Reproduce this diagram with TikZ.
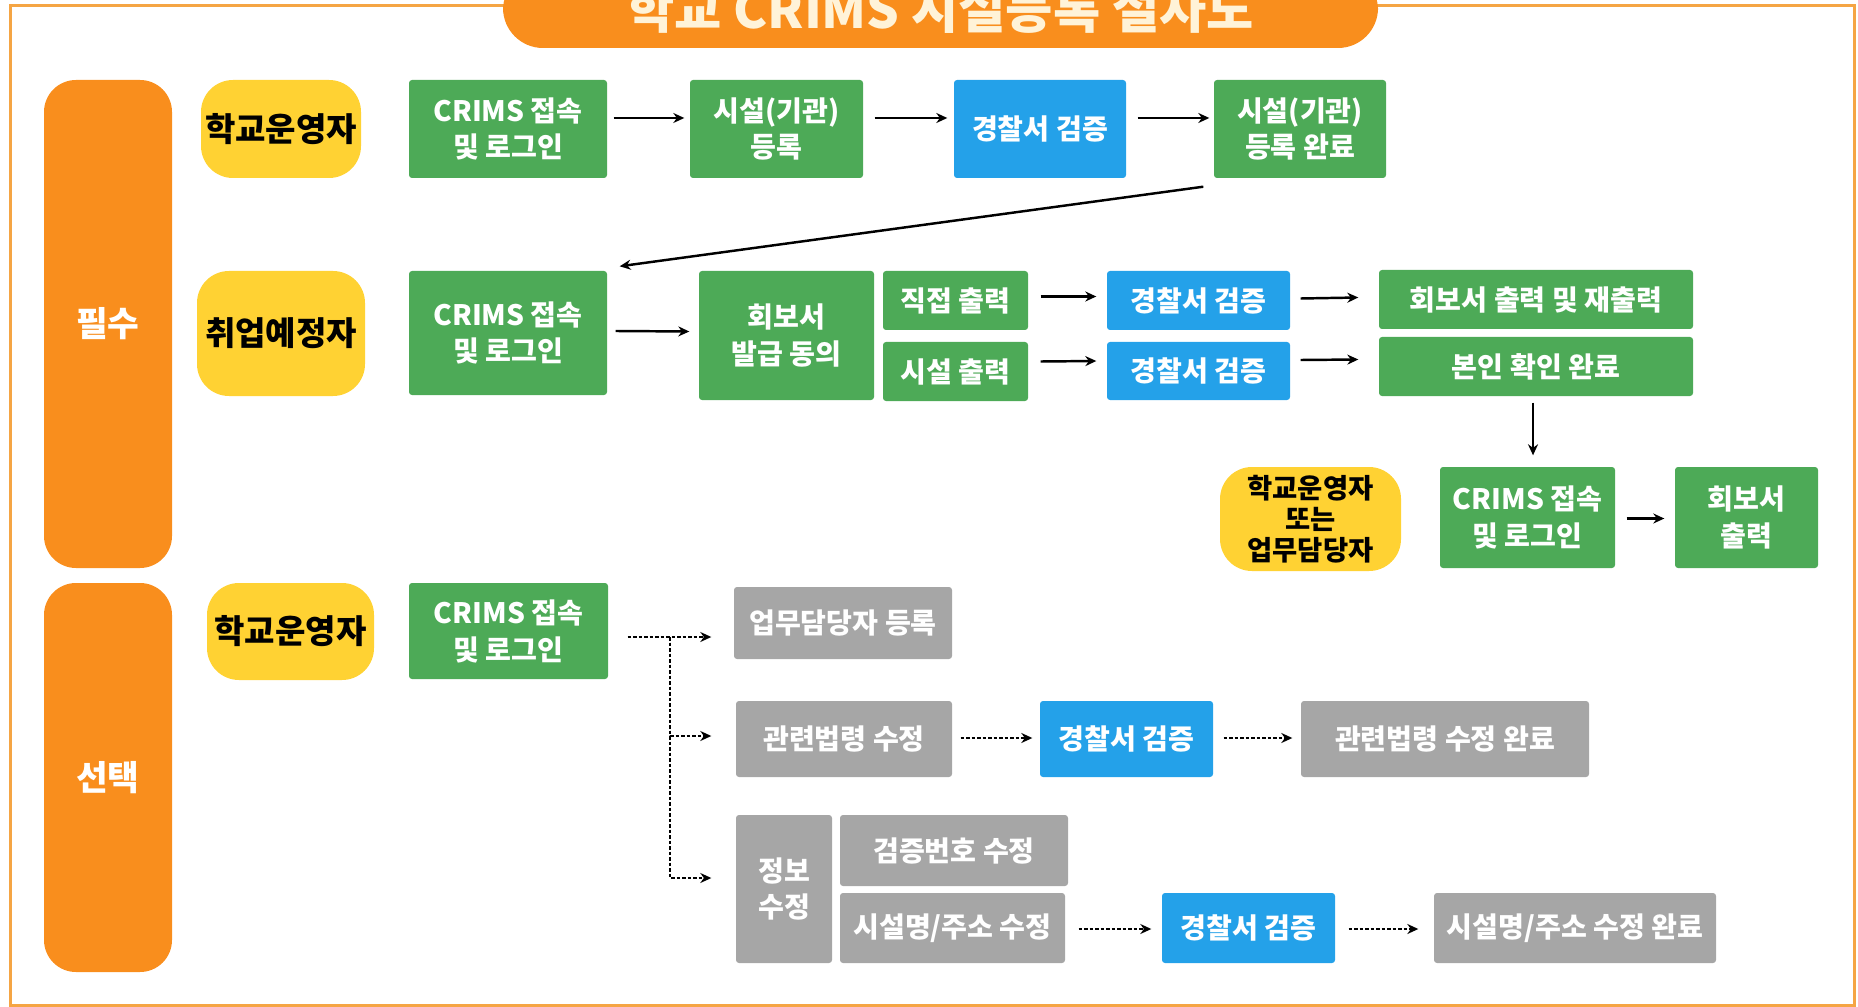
\documentclass[tikz,border=0pt]{standalone}
\usepackage{fontspec}
\setmainfont{Noto Sans CJK KR}
\usetikzlibrary{arrows.meta,calc}
\definecolor{crorange}{HTML}{F98E1D}
\definecolor{crframe}{HTML}{F5A544}
\definecolor{cryellow}{HTML}{FFD233}
\definecolor{crgreen}{HTML}{4DAA57}
\definecolor{crblue}{HTML}{24A1E9}
\definecolor{crgray}{HTML}{A6A6A6}
\definecolor{crcream}{HTML}{FFF3D8}

\begin{document}
\begin{tikzpicture}[x=0.1mm, y=-0.1mm,
    sz/.style 2 args={minimum width=#1*0.1mm, minimum height=#2*0.1mm},
    base/.style={inner sep=0pt, align=center, text=white, rounded corners=0.3mm,
        font=\bfseries\fontsize{8}{10.5}\selectfont},
    gbox/.style={base, fill=crgreen},
    bbox/.style={base, fill=crblue},
    hbox/.style={base, fill=crgray},
    role/.style={inner sep=0pt, align=center, fill=cryellow, rounded corners=3.2mm,
        font=\bfseries\fontsize{9.4}{10}\selectfont},
    side/.style={inner sep=0pt, fill=crorange, rounded corners=3.2mm, text=white,
        font=\bfseries\fontsize{9.8}{11}\selectfont},
    titlebar/.style={side, text=crcream, rounded corners=4mm,
        font=\bfseries\fontsize{14.6}{16}\selectfont},
    arrow/.style={-{Stealth[length=1.1mm, width=1mm]}, line width=0.7pt},
    darrow/.style={arrow, line width=0.6pt, dash pattern=on 0.35mm off 0.2mm}
]
    \useasboundingbox (0,0) rectangle (1858,1007);
    % 테두리와 제목
    \draw[crframe, line width=0.3mm] (10,6) rectangle (1854,1005);
    \node[titlebar, sz={875}{78}] (title) at (940.5,9) {학교 CRIMS 시설등록 절차도};

    % 필수
    \node[side, sz={128}{488}] (must) at (108,324) {필수};
    \node[role, sz={160}{98}] (op1) at (281,129) {학교운영자};
    \node[gbox, sz={198}{98}] (login1) at (508,129) {CRIMS 접속\\및 로그인};
    \node[gbox, sz={173}{98}] (fac) at (776.5,129) {시설(기관)\\등록};
    \node[bbox, sz={172}{98}] (police1) at (1040,129) {경찰서 검증};
    \node[gbox, sz={172}{98}] (facdone) at (1300,129) {시설(기관)\\등록 완료};

    \node[role, sz={168}{125}] (job) at (281,333.5) {취업예정자};
    \node[gbox, sz={198}{124}] (login2) at (508,333) {CRIMS 접속\\및 로그인};
    \node[gbox, sz={175}{129}] (agree) at (786.5,335.5) {회보서\\발급 동의};
    \node[gbox, sz={145}{59}] (direct) at (955.5,300.5) {직접 출력};
    \node[gbox, sz={145}{59}] (facout) at (955.5,371.5) {시설 출력};
    \node[bbox, sz={183}{59}] (police2) at (1198.5,300.5) {경찰서 검증};
    \node[bbox, sz={183}{58}] (police3) at (1198.5,371) {경찰서 검증};
    \node[gbox, sz={314}{59}] (reprint) at (1536,299.5) {회보서 출력 및 재출력};
    \node[gbox, sz={314}{59}] (selfok) at (1536,366.5) {본인 확인 완료};

    \node[role, sz={181}{104}, font=\bfseries\fontsize{7.8}{8.8}\selectfont] (op2) at (1310.5,519) {학교운영자\\또는\\업무담당자};
    \node[gbox, sz={175}{101}] (login3) at (1527.5,517.5) {CRIMS 접속\\및 로그인};
    \node[gbox, sz={143}{101}] (print) at (1746.5,517.5) {회보서\\출력};

    \draw[arrow] ($(login1.east)+(6,-11)$) -- ($(fac.west)+(-5,-11)$);
    \draw[arrow] ($(fac.east)+(11,-11)$) -- ($(police1.west)+(-6,-11)$);
    \draw[arrow] ($(police1.east)+(11,-11)$) -- ($(facdone.west)+(-4,-11)$);
    \draw[arrow] ($(facdone.south west)+(-10,8)$) -- ($(login2.north east)+(12,-4)$);
    \draw[arrow] ($(login2.east)+(8,-2)$) -- ($(agree.west)+(-9,-4)$);
    \draw[arrow] ($(direct.east)+(12,-4)$) -- ($(police2.west)+(-10,-4)$);
    \draw[arrow] ($(police2.east)+(10,-2)$) -- ($(reprint.west)+(-20,-2)$);
    \draw[arrow] ($(facout.east)+(12,-10)$) -- ($(police3.west)+(-10,-10)$);
    \draw[arrow] ($(police3.east)+(10,-11)$) -- ($(selfok.west)+(-20,-7)$);
    \draw[arrow] ($(selfok.south)+(-3,6)$) -- ($(selfok.south |- login3.north)+(-3,-11)$);
    \draw[arrow] ($(login3.east)+(11,1)$) -- ($(print.west)+(-10,1)$);

    % 선택
    \node[side, sz={128}{389}] (opt) at (108,777.5) {선택};
    \node[role, sz={167}{97}] (op3) at (290.5,631.5) {학교운영자};
    \node[gbox, sz={199}{96}] (login4) at (508.5,631) {CRIMS 접속\\및 로그인};
    \node[hbox, sz={218}{72}] (staff) at (843,623) {업무담당자 등록};
    \node[hbox, sz={216}{76}] (law) at (844,739) {관련법령 수정};
    \node[bbox, sz={173}{76}] (police4) at (1126.5,739) {경찰서 검증};
    \node[hbox, sz={288}{76}] (lawdone) at (1445,739) {관련법령 수정 완료};
    \node[hbox, sz={96}{148}] (info) at (784,889) {정보\\수정};
    \node[hbox, sz={228}{71}] (code) at (954,850.5) {검증번호 수정};
    \node[hbox, sz={225}{70}] (addr) at (952.5,928) {시설명/주소 수정};
    \node[bbox, sz={173}{70}] (police5) at (1248.5,928) {경찰서 검증};
    \node[hbox, sz={282}{70}] (addrdone) at (1575,928) {시설명/주소 수정 완료};

    \coordinate (split) at (670,637);
    \draw[darrow] ($(login4.east |- split)+(19,0)$) -- ($(staff.west |- split)+(-22,0)$);
    \draw[darrow] (split) |- ($(law.west)+(-24,-3)$);
    \draw[darrow] (split) |- ($(info.west)+(-24,-11)$);
    \draw[darrow] ($(law.east)+(8,-1)$) -- ($(police4.west)+(-7,-1)$);
    \draw[darrow] ($(police4.east)+(10,-1)$) -- ($(lawdone.west)+(-8,-1)$);
    \draw[darrow] ($(addr.east)+(13,1)$) -- ($(police5.west)+(-10,1)$);
    \draw[darrow] ($(police5.east)+(13,1)$) -- ($(addrdone.west)+(-15,1)$);
\end{tikzpicture}
\end{document}
